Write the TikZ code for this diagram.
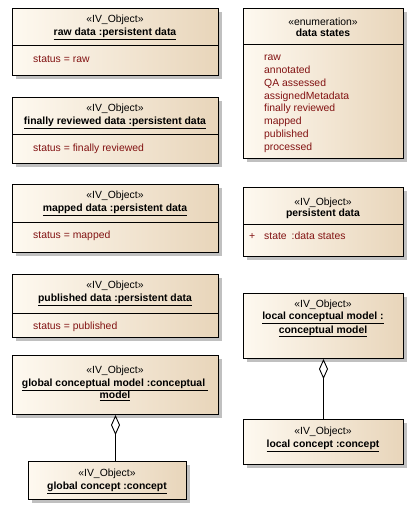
\documentclass[tikz,border=0pt]{standalone}
\usepackage{fontspec}
\setmainfont{Liberation Sans}
\usetikzlibrary{shadows,arrows.meta}
\definecolor{boxlight}{RGB}{254,249,240}
\definecolor{boxdark}{RGB}{232,213,186}
\definecolor{attrred}{RGB}{130,18,18}
\definecolor{shadowgray}{RGB}{192,192,192}
\tikzset{
  objbox/.style={draw, line width=1pt, left color=boxlight, right color=boxdark,
    anchor=north west, inner sep=0pt,
    drop shadow={shadow xshift=3.5pt, shadow yshift=-3.5pt, fill=shadowgray, opacity=1}},
  stereo/.style={anchor=base, inner sep=0pt, font=\fontsize{10.4}{12.5}\selectfont},
  objtitle/.style={anchor=base, inner sep=0pt, font=\fontsize{10.4}{12.5}\selectfont\bfseries},
  attr/.style={anchor=base west, inner sep=0pt, text=attrred, font=\fontsize{10.4}{12.5}\selectfont},
  sepline/.style={line width=1pt},
  aggr/.style={line width=0.9pt, -{Diamond[open, length=20pt, width=9pt, line width=0.9pt]}}
}
\begin{document}
\begin{tikzpicture}[x=1pt, y=-1pt, line join=miter]
\useasboundingbox (0,0) rectangle (412,513);
% left column
\node[objbox, minimum width=206pt, minimum height=67pt] (raw) at (12,8) {};
\draw[sepline] (12,46) -- (218,46);
\node[stereo] (raw-st) at (115,22.5) {«IV\_Object»};
\node[objtitle] (raw-ti) at (115,35.5) {\underline{raw data :persistent data}};
\node[attr] (raw-at) at (33,62.5) {status = raw};

\node[objbox, minimum width=206pt, minimum height=66pt] (final) at (12,97) {};
\draw[sepline] (12,135) -- (218,135);
\node[stereo] (final-st) at (115,111.5) {«IV\_Object»};
\node[objtitle] (final-ti) at (115,124.5) {\underline{finally reviewed data :persistent data}};
\node[attr] (final-at) at (33,151.5) {status = finally reviewed};

\node[objbox, minimum width=206pt, minimum height=68pt] (mapped) at (12,184) {};
\draw[sepline] (12,222) -- (218,222);
\node[stereo] (mapped-st) at (115,198.5) {«IV\_Object»};
\node[objtitle] (mapped-ti) at (115,211.5) {\underline{mapped data :persistent data}};
\node[attr] (mapped-at) at (33,238.5) {status = mapped};

\node[objbox, minimum width=206pt, minimum height=63pt] (publ) at (12,274) {};
\draw[sepline] (12,313) -- (218,313);
\node[stereo] (publ-st) at (115,288.5) {«IV\_Object»};
\node[objtitle] (publ-ti) at (115,301.5) {\underline{published data :persistent data}};
\node[attr] (publ-at) at (33,329.5) {status = published};

\node[objbox, minimum width=206pt, minimum height=59pt] (gmodel) at (12,355) {};
\node[stereo] (gmodel-st) at (115,373.5) {«IV\_Object»};
\node[objtitle] (gmodel-ti) at (115,386.5) {\underline{global conceptual model :conceptual\ }};
\node[objtitle] (gmodel-ti2) at (115,398.5) {\underline{model}};

\node[objbox, minimum width=158pt, minimum height=38pt] (gconcept) at (28,461) {};
\node[stereo] (gconcept-st) at (107,476.5) {«IV\_Object»};
\node[objtitle] (gconcept-ti) at (107,489.5) {\underline{global concept :concept}};

% right column
\node[objbox, minimum width=160pt, minimum height=150pt] (states) at (243,8) {};
\draw[sepline] (243,45) -- (403,45);
\node[stereo] (states-st) at (323,25.5) {«enumeration»};
\node[objtitle] (states-ti) at (323,37) {data states};
\foreach \lit [count=\k from 0] in {raw, annotated, QA assessed, assignedMetadata,
    finally reviewed, mapped, published, processed}
  \node[attr] (lit\k) at (264,60.5+12.86*\k) {\lit};

\node[objbox, minimum width=160pt, minimum height=69pt] (persist) at (243,187) {};
\draw[sepline] (243,224) -- (403,224);
\node[stereo] (persist-st) at (323,205.5) {«IV\_Object»};
\node[objtitle] (persist-ti) at (323,216.5) {persistent data};
\node[attr] (persist-vis) at (249,239) {+};
\node[attr] (persist-at) at (264,239) {state\hspace{5pt}:data states};

\node[objbox, minimum width=160pt, minimum height=65pt] (lmodel) at (243,293) {};
\node[stereo] (lmodel-st) at (323,307.5) {«IV\_Object»};
\node[objtitle] (lmodel-ti) at (323,319.5) {\underline{local conceptual model :}};
\node[objtitle] (lmodel-ti2) at (323,333) {\underline{conceptual model}};

\node[objbox, minimum width=160pt, minimum height=45pt] (lconcept) at (243,419) {};
\node[stereo] (lconcept-st) at (323,434.5) {«IV\_Object»};
\node[objtitle] (lconcept-ti) at (323,447.5) {\underline{local concept :concept}};

% aggregations
\draw[aggr] (gmodel.south |- gconcept.north) -- (gmodel.south);
\draw[aggr] (lconcept.north) -- (lmodel.south);
\end{tikzpicture}
\end{document}
